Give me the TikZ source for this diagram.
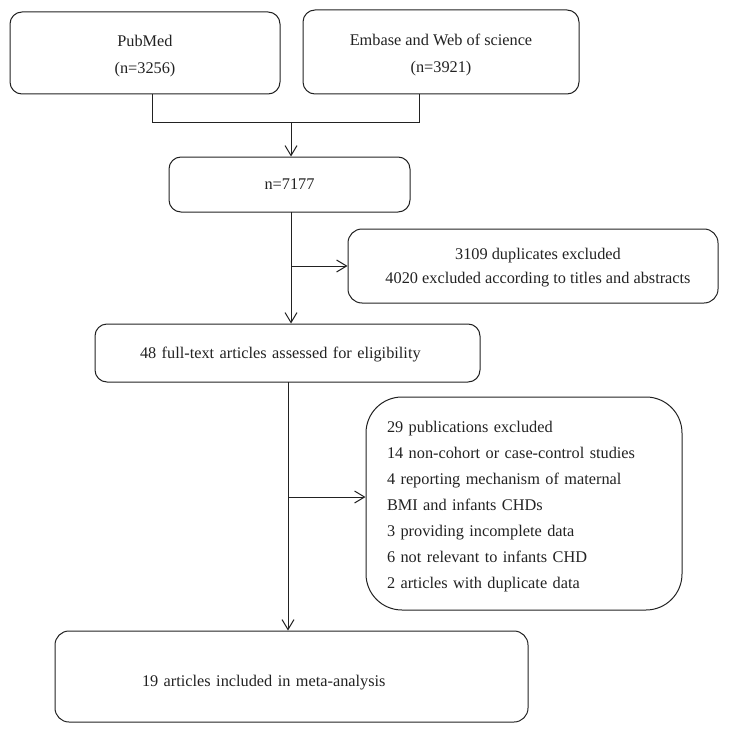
\documentclass[tikz,border=0pt]{standalone}
\usepackage{fontspec}
\setmainfont{Liberation Serif}
\usetikzlibrary{arrows.meta}
\definecolor{ink}{HTML}{222222}
\begin{document}
\begin{tikzpicture}[x=1pt,y=-1pt,
  box/.style={draw=ink, line width=1pt, text=ink, inner sep=0pt,
    font=\fontsize{16.3}{27}\selectfont},
  conn/.style={draw=ink, line width=1pt},
  arr/.style={conn, -{Straight Barb[length=10pt,width=12pt,line width=1pt]}}]
\useasboundingbox (0,0) rectangle (729,733);
% top boxes
\node[box, rounded corners=12pt, minimum width=270pt, minimum height=82pt, align=center]
  (pub) at (145,53) {\rule{0pt}{17pt}PubMed\\(n=3256)};
\node[box, rounded corners=12pt, minimum width=276pt, minimum height=84pt, align=center]
  (emb) at (441,52) {\rule{0pt}{17pt}Embase and Web of science\\(n=3921)};
% merged
\node[box, rounded corners=12pt, minimum width=241pt, minimum height=55pt]
  (tot) at (289.5,184.5) {n=7177};
% excluded 1
\node[box, rounded corners=14pt, minimum width=370pt, minimum height=74pt, align=center,
  font=\fontsize{16.3}{24}\selectfont]
  (ex1) at (533,266) {\hspace*{10pt}\rule{0pt}{15pt}3109 duplicates excluded\\\hspace*{10pt}4020 excluded according to titles and abstracts};
% full text
\node[box, rounded corners=12pt, minimum height=58pt, inner xsep=45pt,
  text width=295pt, align=left]
  (full) at (287.5,353) {\rule{0pt}{14pt}48 full-text articles assessed for eligibility};
% excluded 2
\node[box, rounded corners=36pt, minimum height=213pt, inner xsep=21pt,
  text width=274pt, align=left, font=\fontsize{16.3}{26}\selectfont]
  (ex2) at (524,503.5) {\rule{0pt}{18pt}29 publications excluded\\
14 non-cohort or case-control studies\\
4 reporting mechanism of maternal\\
BMI and infants CHDs\\
3 providing incomplete data\\
6 not relevant to infants CHD\\
2 articles with duplicate data};
% included
\node[box, rounded corners=14pt, minimum height=91pt, inner xsep=87pt,
  text width=299pt, align=left]
  (inc) at (291.5,676.5) {\rule{0pt}{24pt}19 articles included in meta-analysis};
% connectors
\coordinate (jl) at (152,123);
\coordinate (jr) at (419,123);
\coordinate (jm) at (291,123);
\draw[conn] (pub.south -| jl) -- (jl) -- (jr) -- (emb.south -| jr);
\draw[arr] (jm) -- (tot.north -| jm);
\coordinate (t1) at (291,212);
\draw[arr] (t1) -- (t1 |- full.north);
\draw[arr] (t1 |- ex1.west) -- (ex1.west);
\coordinate (t2) at (288,382);
\draw[arr] (t2) -- (t2 |- inc.north);
\coordinate (s2) at (288,497);
\draw[arr] (s2) -- (s2 -| ex2.west);
\end{tikzpicture}
\end{document}
